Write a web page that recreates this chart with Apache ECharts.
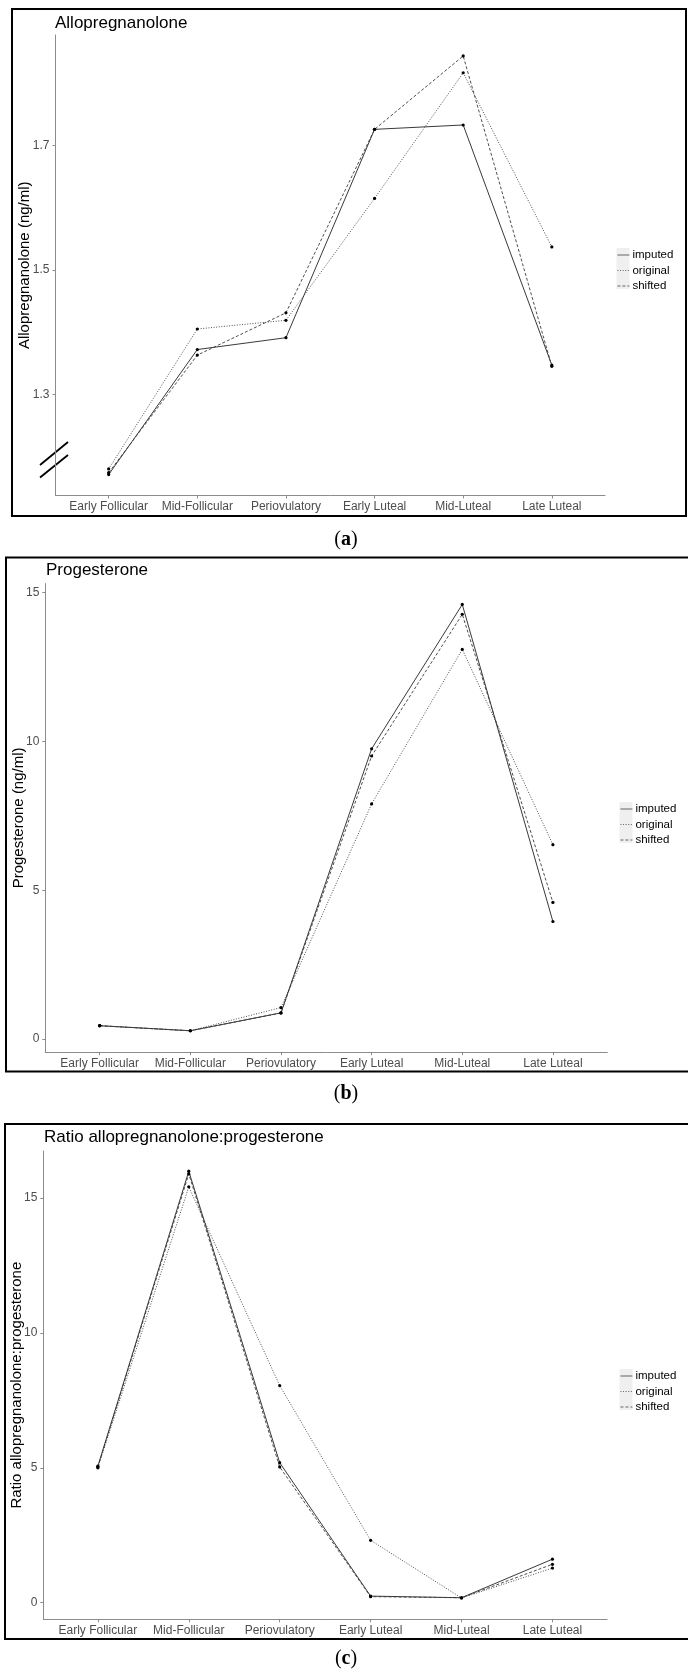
<!DOCTYPE html>
<html>
<head>
<meta charset="utf-8">
<script src="https://cdn.jsdelivr.net/npm/echarts@6/dist/echarts.min.js"></script>
<style>
  html, body { margin: 0; padding: 0; background: #fff; }
  #main { width: 688px; height: 1674px; }
</style>
</head>
<body>
<div id="main"></div>
<script>
// cycle phases on the x axis
const phases = ['Early Follicular', 'Mid-Follicular', 'Periovulatory', 'Early Luteal', 'Mid-Luteal', 'Late Luteal'];
const methods = ['imputed', 'original', 'shifted'];

// (a) allopregnanolone (ng/ml)
const alloImputed = [1.171, 1.372, 1.391, 1.726, 1.733, 1.347];
const alloOriginal = [1.180, 1.405, 1.419, 1.615, 1.817, 1.537];
const alloShifted = [1.174, 1.363, 1.431, 1.726, 1.844, 1.345];
const alloTicks = [1.3, 1.5, 1.7];

// (b) progesterone (ng/ml)
const progImputed = [0.45, 0.28, 0.88, 9.75, 14.60, 3.95];
const progOriginal = [0.45, 0.28, 1.06, 7.90, 13.09, 6.53];
const progShifted = [0.45, 0.28, 0.88, 9.51, 14.27, 4.59];
const progTicks = [0, 5, 10, 15];

// (c) ratio allopregnanolone:progesterone
const ratioImputed = [5.06, 16.00, 5.19, 0.24, 0.18, 1.61];
const ratioOriginal = [5.00, 15.42, 8.05, 2.31, 0.17, 1.28];
const ratioShifted = [5.03, 15.90, 5.03, 0.22, 0.18, 1.42];
const ratioTicks = [0, 5, 10, 15];

const font = 'Liberation Sans, Arial, sans-serif';
const axisGrey = '#8c8c8c';
const phaseIdx = [0, 1, 2, 3, 4, 5];

const lineTypes = {
    imputed: 'solid',
    original: [1, 1.6],
    shifted: [3, 2]
};

function xAxisFor(i) {
    return {
        gridIndex: i, type: 'value', min: -0.6, max: 5.6,
        axisLine: { show: true, onZero: false, lineStyle: { color: axisGrey, width: 1 } },
        axisTick: { show: true, length: 3, customValues: phaseIdx, lineStyle: { color: axisGrey } },
        axisLabel: {
            customValues: phaseIdx, formatter: v => phases[v],
            color: '#4d4d4d', fontSize: 12, fontFamily: font, margin: 5
        },
        splitLine: { show: false }
    };
}

function yAxisFor(i, min, max, ticks, name, gap) {
    return {
        gridIndex: i, type: 'value', min: min, max: max,
        name: name, nameLocation: 'middle', nameGap: gap, nameMoveOverlap: false,
        nameTextStyle: { fontSize: 15, color: '#000', fontFamily: font },
        axisLine: { show: true, onZero: false, lineStyle: { color: axisGrey, width: 1 } },
        axisTick: { show: true, length: 3, customValues: ticks, lineStyle: { color: axisGrey } },
        axisLabel: { customValues: ticks, color: '#4d4d4d', fontSize: 12, fontFamily: font, margin: 6 },
        splitLine: { show: false }
    };
}

function seriesFor(i, name, vals) {
    return {
        type: 'line', name: name, xAxisIndex: i, yAxisIndex: i,
        data: vals.map((v, k) => [k, v]),
        symbol: 'circle', symbolSize: 3.2,
        itemStyle: { color: '#000' },
        lineStyle: { color: name == 'imputed' ? '#222' : '#3a3a3a', width: 0.9, type: lineTypes[name] },
        emphasis: { disabled: true },
        silent: true
    };
}

function legendFor(left, top) {
    return {
        orient: 'vertical', left: left, top: top, padding: 0,
        data: methods, itemWidth: 12, itemHeight: 10, itemGap: 3.5,
        itemStyle: { opacity: 0 },
        lineStyle: { width: 0.9, color: '#555' },
        textStyle: { fontSize: 11.5, color: '#000', fontFamily: font, padding: [0, 0, 0, -2] },
        selectedMode: false
    };
}

function titleFor(text, left, top) {
    return {
        text: text, left: left, top: top, padding: 0,
        textStyle: { fontSize: 17, fontWeight: 'normal', color: '#000', fontFamily: font, lineHeight: 20 }
    };
}

function panelLabel(letter, y) {
    return {
        type: 'text', x: 346, y: y,
        style: {
            text: '{p|(}{b|' + letter + '}{p|)}',
            align: 'center', verticalAlign: 'middle',
            rich: {
                p: { fontSize: 20, fontFamily: 'Liberation Serif, DejaVu Serif, serif', fill: '#000' },
                b: { fontSize: 20, fontWeight: 'bold', fontFamily: 'Liberation Serif, DejaVu Serif, serif', fill: '#000' }
            }
        }
    };
}

function frame(x, y, w, h) {
    return { type: 'rect', shape: { x: x, y: y, width: w, height: h }, style: { fill: 'none', stroke: '#000', lineWidth: 2 }, z: 10 };
}

function keyBox(x, y) {
    return { type: 'rect', shape: { x: x, y: y, width: 13, height: 41 }, style: { fill: '#efefef' }, z: 0 };
}

const chart = echarts.init(document.getElementById('main'));
chart.setOption({
    animation: false,
    backgroundColor: '#fff',
    title: [
        titleFor('Allopregnanolone', 55, 13),
        titleFor('Progesterone', 46, 560),
        titleFor('Ratio allopregnanolone:progesterone', 44, 1127)
    ],
    legend: [
        legendFor(617, 249),
        legendFor(620, 803),
        legendFor(620, 1370)
    ],
    grid: [
        { left: 55.5, top: 35, width: 549.5, height: 460.5 },
        { left: 45.3, top: 583.6, width: 562, height: 468.6 },
        { left: 43.3, top: 1151, width: 563.7, height: 468.3 }
    ],
    xAxis: [xAxisFor(0), xAxisFor(1), xAxisFor(2)],
    yAxis: [
        yAxisFor(0, 1.1373, 1.8777, alloTicks, 'Allopregnanolone (ng/ml)', 23),
        yAxisFor(1, -0.44, 15.3, progTicks, 'Progesterone (ng/ml)', 18.5),
        yAxisFor(2, -0.62, 16.75, ratioTicks, 'Ratio allopregnanolone:progesterone', 18.5)
    ],
    series: [
        seriesFor(0, 'imputed', alloImputed),
        seriesFor(0, 'original', alloOriginal),
        seriesFor(0, 'shifted', alloShifted),
        seriesFor(1, 'imputed', progImputed),
        seriesFor(1, 'original', progOriginal),
        seriesFor(1, 'shifted', progShifted),
        seriesFor(2, 'imputed', ratioImputed),
        seriesFor(2, 'original', ratioOriginal),
        seriesFor(2, 'shifted', ratioShifted)
    ],
    graphic: [
        frame(12, 9, 674, 507),
        frame(6, 557.5, 690, 514),
        frame(5, 1124, 690, 515),
        keyBox(616.5, 248),
        keyBox(619.5, 802),
        keyBox(619.5, 1369),
        // axis break marks on the allopregnanolone y axis
        { type: 'line', shape: { x1: 40, y1: 465, x2: 68, y2: 442 }, style: { stroke: '#000', lineWidth: 1.8 } },
        { type: 'line', shape: { x1: 40, y1: 477.5, x2: 68, y2: 455 }, style: { stroke: '#000', lineWidth: 1.8 } },
        panelLabel('a', 540),
        panelLabel('b', 1094),
        panelLabel('c', 1659)
    ]
});
</script>
</body>
</html>
